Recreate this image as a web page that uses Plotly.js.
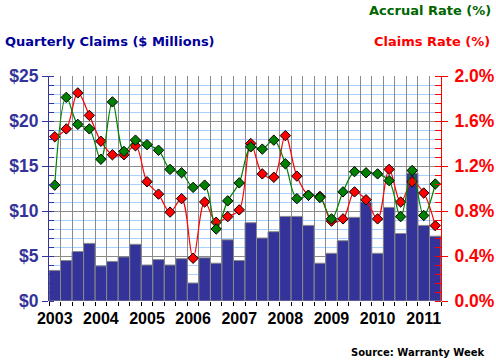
<!DOCTYPE html>
<html>
<head>
<meta charset="utf-8">
<script src="https://cdn.plot.ly/plotly-3.0.1.min.js"></script>
<style>html,body{margin:0;padding:0;background:#fff;}#chart{width:496px;height:362px;}</style>
</head>
<body>
<div id="chart"></div>
<script>
// Quarters 2003 Q1 .. 2011 Q2
const quarters = ["2003Q1","2003Q2","2003Q3","2003Q4","2004Q1","2004Q2","2004Q3","2004Q4",
  "2005Q1","2005Q2","2005Q3","2005Q4","2006Q1","2006Q2","2006Q3","2006Q4",
  "2007Q1","2007Q2","2007Q3","2007Q4","2008Q1","2008Q2","2008Q3","2008Q4",
  "2009Q1","2009Q2","2009Q3","2009Q4","2010Q1","2010Q2","2010Q3","2010Q4",
  "2011Q1","2011Q2"];
// Quarterly claims ($ millions)
const claims = [3.4,4.5,5.5,6.4,3.9,4.4,4.9,6.3,
  4.0,4.6,4.0,4.7,2.0,4.8,4.2,6.8,
  4.5,8.7,7.0,7.7,9.4,9.4,8.4,4.2,
  5.3,6.7,9.3,11.0,5.3,10.4,7.5,14.2,
  8.4,7.2];
// Accrual rate (%)
const accrualRate = [1.03,1.81,1.57,1.53,1.26,1.77,1.33,1.43,
  1.39,1.34,1.17,1.14,1.01,1.03,0.64,0.89,
  1.05,1.37,1.35,1.43,1.22,0.91,0.94,0.92,
  0.73,0.97,1.15,1.14,1.13,1.07,0.75,1.16,
  0.76,1.04];
// Claims rate (%)
const claimsRate = [1.46,1.53,1.85,1.65,1.42,1.30,1.30,1.38,
  1.06,0.95,0.79,0.91,0.38,0.88,0.70,0.75,
  0.81,1.40,1.13,1.10,1.47,1.11,0.94,0.93,
  0.71,0.73,0.97,0.90,0.73,1.17,0.88,1.06,
  0.96,0.67];
const years = ["2003","2004","2005","2006","2007","2008","2009","2010","2011"];
const leftTicks = [0,5,10,15,20,25];
const leftTickText = ["$0","$5","$10","$15","$20","$25"];
const rightTicks = [0,0.4,0.8,1.2,1.6,2.0];
const rightTickText = ["0.0%","0.4%","0.8%","1.2%","1.6%","2.0%"];

const idx = quarters.map((q,i)=>i);
const boundaries = quarters.map((q,i)=>i-0.5).concat([quarters.length-0.5]);
const yearPos = years.map((y,i)=>quarters.indexOf(y+"Q1"));

const boldFont = (c,s)=>({family:"Liberation Sans, Arial, sans-serif", size:s, color:c, weight:"bold"});

const traces = [
  {type:"bar", x:idx, y:claims, xaxis:"x", yaxis:"y",
   marker:{color:"#333399", line:{color:"#8a8a8a", width:1}}, hoverinfo:"skip"},
  {type:"scatter", mode:"lines+markers", x:idx, y:claimsRate, xaxis:"x", yaxis:"y2",
   line:{color:"#ff0000", width:1.2, shape:"spline", smoothing:1},
   marker:{symbol:"diamond", size:8, color:"#ff0000", line:{color:"#000", width:1}}},
  {type:"scatter", mode:"lines+markers", x:idx, y:accrualRate, xaxis:"x", yaxis:"y2",
   line:{color:"#008000", width:1.2, shape:"spline", smoothing:1},
   marker:{symbol:"diamond", size:8, color:"#008000", line:{color:"#000", width:1}}},
  {type:"scatter", mode:"markers", x:yearPos, y:yearPos.map(()=>null), xaxis:"x2", yaxis:"y",
   hoverinfo:"skip", showlegend:false}
];

const W = 392, H = 225;
const layout = {
  width:496, height:362,
  margin:{l:49, r:55, t:76, b:61, pad:0},
  paper_bgcolor:"#fff", plot_bgcolor:"#fff",
  showlegend:false, bargap:0,
  xaxis:{range:[-0.5, quarters.length-0.5], tickmode:"array", tickvals:boundaries,
    showticklabels:false, ticks:"outside", ticklen:4, tickcolor:"#000", tickwidth:1,
    showgrid:true, gridcolor:"#8a8a8a", gridwidth:1, zeroline:false, showline:false},
  xaxis2:{overlaying:"x", anchor:"y", side:"bottom", range:[-0.5, quarters.length-0.5],
    tickmode:"array", tickvals:yearPos, ticktext:years, ticks:"", showgrid:false,
    zeroline:false, showline:false, tickfont:boldFont("#000",16), ticklabelstandoff:6},
  yaxis:{range:[0,25], tickmode:"array", tickvals:leftTicks, ticktext:leftTickText,
    ticks:"outside", ticklen:6, tickcolor:"#333399", tickwidth:1,
    showline:true, linecolor:"#333399", linewidth:1,
    showgrid:true, gridcolor:"#8a8a8a", gridwidth:1, zeroline:false,
    tickfont:boldFont("#333399",17.5), ticklabelstandoff:0,
    minor:{dtick:1, ticks:"inside", ticklen:5, tickcolor:"#333399", showgrid:true, gridcolor:"#a6d0ff", gridwidth:1}},
  yaxis2:{overlaying:"y", side:"right", range:[0,2.0], tickmode:"array", tickvals:rightTicks, ticktext:rightTickText,
    ticks:"outside", ticklen:6, tickcolor:"#ff0000", tickwidth:1,
    showline:true, linecolor:"#ff0000", linewidth:1, showgrid:false, zeroline:false,
    tickfont:boldFont("#ff0000",17.5), ticklabelstandoff:3,
    minor:{dtick:0.08, ticks:"inside", ticklen:6, tickcolor:"#ff0000", showgrid:false}},
  annotations:[
    {text:"Quarterly Claims ($ Millions)", xref:"paper", yref:"paper", x:(3-49)/W, y:(301-42)/H,
     xanchor:"left", yanchor:"middle", showarrow:false,
     font:{family:"DejaVu Sans, Verdana, sans-serif", size:13, color:"#000099", weight:"bold"}},
    {text:"Accrual Rate (%)", xref:"paper", yref:"paper", x:(493-49)/W, y:(301-11)/H,
     xanchor:"right", yanchor:"middle", showarrow:false,
     font:{family:"DejaVu Sans, Verdana, sans-serif", size:13, color:"#006600", weight:"bold"}},
    {text:"Claims Rate (%)", xref:"paper", yref:"paper", x:(492-49)/W, y:(301-42)/H,
     xanchor:"right", yanchor:"middle", showarrow:false,
     font:{family:"DejaVu Sans, Verdana, sans-serif", size:13, color:"#ff0000", weight:"bold"}},
    {text:"Source: Warranty Week", xref:"paper", yref:"paper", x:(486-49)/W, y:(301-352)/H,
     xanchor:"right", yanchor:"middle", showarrow:false,
     font:{family:"DejaVu Sans, Verdana, sans-serif", size:10, color:"#000", weight:"bold"}}
  ]
};
Plotly.newPlot("chart", traces, layout, {staticPlot:true, displayModeBar:false});
</script>
</body>
</html>
